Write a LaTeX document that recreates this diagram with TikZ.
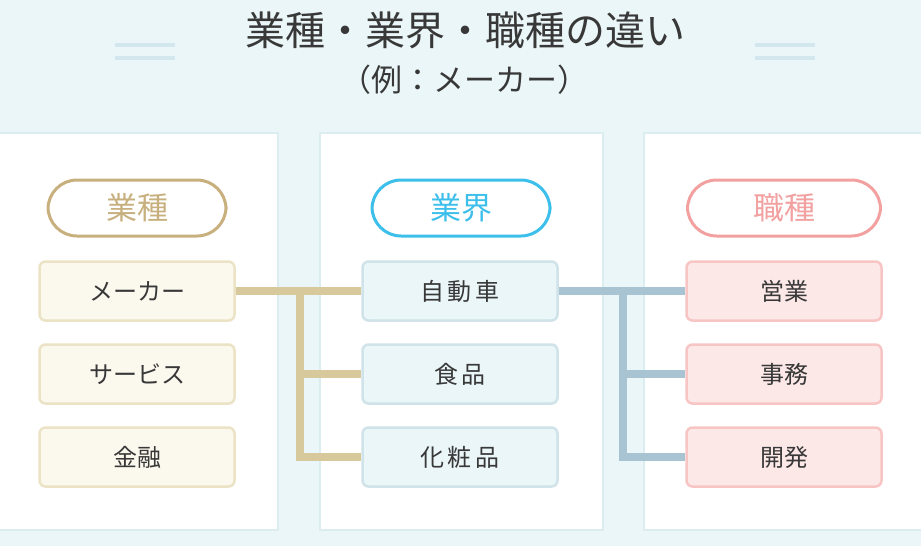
\documentclass[tikz,border=0pt]{standalone}
\usepackage{fontspec}
\setmainfont{Noto Sans CJK JP}
\usepackage{tikz}
\definecolor{bgblue}{HTML}{EBF6F8}
\definecolor{panelline}{HTML}{DCEDF1}
\definecolor{deco}{HTML}{D3E7EE}
\definecolor{gold}{HTML}{C8B07E}
\definecolor{goldfill}{HTML}{FBF9EE}
\definecolor{goldline}{HTML}{ECE3C6}
\definecolor{goldwire}{HTML}{D8C99C}
\definecolor{sky}{HTML}{3DBFEB}
\definecolor{skyfill}{HTML}{EAF6F8}
\definecolor{skyline}{HTML}{CFE3E8}
\definecolor{steel}{HTML}{A8C3D2}
\definecolor{rose}{HTML}{F2A0A0}
\definecolor{rosefill}{HTML}{FDE8E8}
\definecolor{roseline}{HTML}{F8C5C5}
\definecolor{ink}{HTML}{383838}
\tikzset{
  panel/.style={fill=white, draw=panelline, line width=1.5pt},
  pill/.style={draw=#1, text=#1, fill=white, line width=3pt, rounded corners=29pt,
    minimum width=178pt, minimum height=56pt, font=\fontsize{31}{31}\selectfont},
  item/.style={rounded corners=6pt, line width=2.5pt, minimum width=195pt,
    minimum height=59pt, text=ink, font=\fontsize{24}{24}\selectfont},
  wire/.style={line width=8pt, draw=#1}
}
\begin{document}
\begin{tikzpicture}[x=1pt,y=-1pt]
	\fill[bgblue] (0,0) rectangle (921,546);
	\useasboundingbox (0,0) rectangle (921,546);
	
	\draw[panel] (-5,133) rectangle (278,530);
	\draw[panel] (320,133) rectangle (603,530);
	\draw[panel] (644,133) rectangle (926,530);
	
	\draw[deco, line width=4pt] (115,45) -- (175,45) (115,58) -- (175,58);
	\draw[deco, line width=4pt] (755,45) -- (815,45) (755,58) -- (815,58);
	
	\node[text=ink, font=\fontsize{40}{40}\selectfont] (title) at (465,30) {業種・業界・職種の違い};
	\node[text=ink, font=\fontsize{31}{31}\selectfont] (sub) at (464,80) {（例：メーカー）};
	
	\node[pill=gold] (gyoshu) at (137,208) {業種};
	\node[pill=sky] (gyokai) at (461,208) {業界};
	\node[pill=rose, minimum width=193pt] (shokushu) at (784,208) {職種};
	
	\coordinate (gj) at (300,291);
	\coordinate (sj) at (623,291);
	
	\node[item, fill=goldfill, draw=goldline] (maker) at (137,291) {メーカー};
	\node[item, fill=goldfill, draw=goldline] (service) at (137,374) {サービス};
	\node[item, fill=goldfill, draw=goldline] (finance) at (137,457) {金融};
	
	\node[item, fill=skyfill, draw=skyline] (car) at (460,291) {自\,動\,車};
	\node[item, fill=skyfill, draw=skyline] (food) at (460,374) {食\,品};
	\node[item, fill=skyfill, draw=skyline] (cosme) at (460,457) {化\,粧\,品};
	
	\node[item, fill=rosefill, draw=roseline] (sales) at (784,291) {営業};
	\node[item, fill=rosefill, draw=roseline] (office) at (784,374) {事務};
	\node[item, fill=rosefill, draw=roseline] (dev) at (784,457) {開発};
	
	\draw[wire=goldwire] (maker.east) -- (car.west);
	\draw[wire=goldwire] (gj) |- (food.west);
	\draw[wire=goldwire] (gj) |- (cosme.west);
	\draw[wire=steel] (car.east) -- (sales.west);
	\draw[wire=steel] (sj) |- (office.west);
	\draw[wire=steel] (sj) |- (dev.west);
\end{tikzpicture}
\end{document}
